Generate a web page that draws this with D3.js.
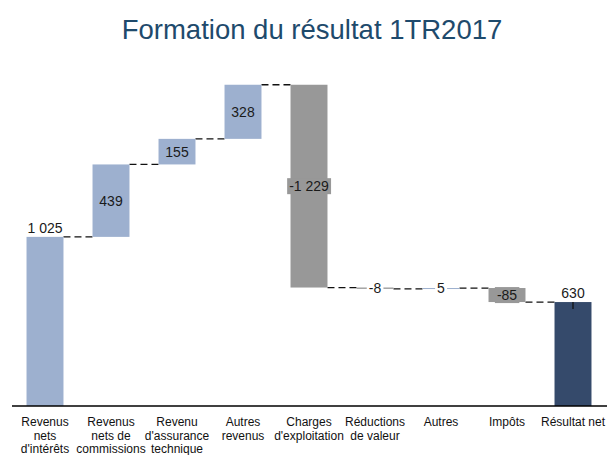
<!DOCTYPE html>
<html>
<head>
<meta charset="utf-8">
<script src="https://cdn.jsdelivr.net/npm/d3@7"></script>
<style>
  body { margin: 0; background: #fff; }
  text { font-family: "Liberation Sans", Arial, sans-serif; }
</style>
</head>
<body>
<div id="chart"></div>
<script>
// data
var categories = ["Revenus\nnets\nd'intérêts", "Revenus\nnets de\ncommissions", "Revenu\nd'assurance\ntechnique",
    "Autres\nrevenus", "Charges\nd'exploitation", "Réductions\nde valeur", "Autres", "Impôts", "Résultat net"]
var values = [1025, 439, 155, 328, -1229, -8, 5, -85, 630]
var isTotal = [false, false, false, false, false, false, false, false, true]

var width = 612, height = 455

var svg = d3.select("#chart")
    .append("svg")
    .attr("width", width)
    .attr("height", height)

var fr = d3.formatLocale({ decimal: ",", thousands: " ", grouping: [3], currency: ["", " €"], minus: "-" })
var fmt = fr.format(",d")

// running totals
var running = 0
var steps = values.map(function (v, i) {
    var start, end
    if (isTotal[i]) { start = 0; end = v; running = v }
    else { start = running; end = running + v; running = end }
    return { cat: categories[i], value: v, start: start, end: end, total: isTotal[i], i: i }
})

var x = d3.scaleBand()
    .domain(categories)
    .range([12, 606])
    .paddingInner(0.44)
    .paddingOuter(0.22)

var y = d3.scaleLinear()
    .domain([0, 2400])
    .range([406, 10])

function barColor(d) {
    if (d.total) return "#354a6b"
    return d.value < 0 ? "#989898" : "#9db0cf"
}

// title
svg.append("text")
    .attr("x", 312)
    .attr("y", 39)
    .attr("text-anchor", "middle")
    .style("font-size", "27.5px")
    .style("fill", "#1e4a6c")
    .text("Formation du résultat 1TR2017")

// connectors
svg.selectAll(".conn")
    .data(steps.slice(0, -1))
    .enter()
    .append("line")
    .attr("x1", d => x(d.cat) + x.bandwidth())
    .attr("x2", d => x(categories[d.i + 1]))
    .attr("y1", d => y(d.end))
    .attr("y2", d => y(d.end))
    .attr("stroke", "#111")
    .attr("stroke-width", 1.3)
    .attr("stroke-dasharray", "7,4")

// bars
svg.selectAll(".bar")
    .data(steps)
    .enter()
    .append("rect")
    .attr("x", d => x(d.cat))
    .attr("width", x.bandwidth())
    .attr("y", d => y(Math.max(d.start, d.end)))
    .attr("height", d => Math.max(1, Math.abs(y(d.start) - y(d.end))))
    .attr("fill", barColor)

// axis line
svg.append("line")
    .attr("x1", 12).attr("x2", 607)
    .attr("y1", y(0)).attr("y2", y(0))
    .attr("stroke", "#000")
    .attr("stroke-width", 1.5)

// value labels
var labels = svg.selectAll(".lab")
    .data(steps)
    .enter()
    .append("g")
    .attr("transform", function (d) {
        var cx = x(d.cat) + x.bandwidth() / 2
        var cy
        if (d.i == 0 || d.total) cy = y(d.end) - 9
        else cy = (y(d.start) + y(d.end)) / 2
        return "translate(" + cx + "," + cy + ")"
    })

labels.append("text")
    .attr("text-anchor", "middle")
    .attr("dy", "0.36em")
    .style("font-size", "14px")
    .style("fill", "#1a1a1a")
    .text(d => fmt(d.value))

// backgrounds behind labels sitting on thin bars
labels.each(function (d) {
    var g = d3.select(this)
    var bb = g.select("text").node().getBBox()
    var bg = null
    if (d.value == -1229 || d.value == -85) bg = barColor(d)
    if (Math.abs(d.value) < 20) bg = "#fff"
    if (bg) {
        g.insert("rect", "text")
            .attr("x", bb.x - 2)
            .attr("y", bb.y)
            .attr("width", bb.width + 4)
            .attr("height", bb.height)
            .attr("fill", bg)
    }
})

// little tick on the total bar
svg.append("line")
    .attr("x1", x(categories[8]) + x.bandwidth() / 2)
    .attr("x2", x(categories[8]) + x.bandwidth() / 2)
    .attr("y1", y(630))
    .attr("y2", y(630) + 7)
    .attr("stroke", "#111")
    .attr("stroke-width", 1.3)

// category labels
svg.selectAll(".cat")
    .data(categories)
    .enter()
    .append("text")
    .attr("text-anchor", "middle")
    .attr("x", d => x(d) + x.bandwidth() / 2)
    .attr("y", 426)
    .style("font-size", "12px")
    .style("fill", "#111")
    .each(function (d) {
        var t = d3.select(this)
        d.split("\n").forEach(function (line, k) {
            t.append("tspan")
                .attr("x", x(d) + x.bandwidth() / 2)
                .attr("dy", k == 0 ? 0 : 13.6)
                .text(line)
        })
    })
</script>
</body>
</html>
